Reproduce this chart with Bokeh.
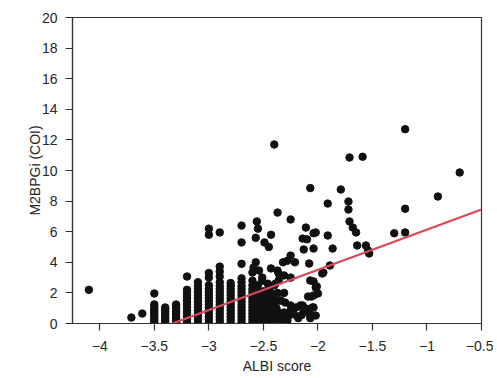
from bokeh.plotting import figure
from bokeh.models import FixedTicker, Range1d
from bokeh.embed import file_html
from bokeh.resources import INLINE

# ---- axis ticks ----
x_ticks = [-4, -3.5, -3, -2.5, -2, -1.5, -1, -0.5]
x_tick_labels = ["−4", "−3.5", "−3", "−2.5", "−2", "−1.5", "−1", "−0.5"]
y_ticks = [0, 2, 4, 6, 8, 10, 12, 14, 16, 18, 20]

# ---- dense vertical stripes (ALBI score value, M2BPGi values) ----
stripe_x = [-3.5, -3.4, -3.3, -3.2, -3.1, -3.0, -2.9, -2.8, -2.7, -2.6]
stripe_y = [
    [0.05, 0.2, 0.35, 0.5, 0.65, 0.8, 0.95, 1.1, 1.25, 1.96],
    [0.05, 0.2, 0.35, 0.5, 0.65, 0.8, 0.95, 1.05],
    [0.05, 0.2, 0.35, 0.5, 0.65, 0.8, 0.95, 1.1, 1.24],
    [0.05, 0.25, 0.45, 0.65, 0.85, 1.05, 1.25, 1.45, 1.65, 1.85, 2.05, 2.2, 3.07],
    [0.05, 0.25, 0.45, 0.65, 0.85, 1.05, 1.25, 1.45, 1.65, 1.85, 2.05, 2.25, 2.45, 2.7],
    [0.05, 0.25, 0.45, 0.65, 0.85, 1.05, 1.25, 1.45, 1.65, 1.85, 2.05, 2.25, 2.5, 3.0, 3.3, 5.8, 6.2],
    [0.05, 0.25, 0.45, 0.65, 0.85, 1.05, 1.25, 1.45, 1.65, 1.85, 2.05, 2.25, 2.45, 2.7, 3.07, 3.4, 3.72, 5.95],
    [0.05, 0.25, 0.45, 0.65, 0.85, 1.05, 1.25, 1.45, 1.65, 1.85, 2.05, 2.25, 2.45, 2.65],
    [0.05, 0.25, 0.45, 0.65, 0.85, 1.05, 1.25, 1.45, 1.65, 1.85, 2.05, 2.25, 2.45, 2.7, 2.95, 3.9, 5.3, 6.4],
    [0.05, 0.25, 0.45, 0.65, 0.85, 1.05, 1.25, 1.45, 1.65, 1.85, 2.05, 2.25, 2.5, 2.8, 3.33],
]

# ---- scattered patients ----
cloud_x = [
    -4.10, -3.71, -3.61,
    -2.57, -2.57, -2.56, -2.57, -2.55, -2.56, -2.55, -2.56, -2.55,
    -2.52, -2.51, -2.52, -2.50, -2.51, -2.52, -2.50, -2.51,
    -2.47, -2.46, -2.47, -2.45, -2.46, -2.47, -2.45, -2.46,
    -2.42, -2.41, -2.42, -2.40, -2.41, -2.43, -2.40,
    -2.37, -2.36, -2.38, -2.35, -2.37, -2.36, -2.37, -2.36,
    -2.32, -2.31, -2.30, -2.31, -2.31, -2.34, -2.33,
    -2.27, -2.25, -2.25, -2.25, -2.28, -2.22,
    -2.20, -2.18, -2.16, -2.14, -2.13, -2.11, -2.15,
    -2.08, -2.07, -2.05, -2.04, -2.04, -2.02, -2.01, -2.00, -2.09, -2.06, -2.07, -2.04, -2.02,
    -2.59, -2.54, -2.57, -2.43, -2.45, -2.49, -2.57, -2.43, -2.56, -2.55,
    -2.32, -2.28, -2.25, -2.21, -2.51, -2.39,
    -2.40, -2.37, -2.25, -2.11, -2.14, -2.10, -2.04, -2.02, -2.07, -1.79,
    -1.91, -1.72, -1.72, -1.71, -1.68, -1.65, -1.91, -1.71, -1.59, -1.20,
    -0.70, -0.90, -1.20, -1.20, -1.30,
    -2.13, -2.04, -1.865, -1.64, -1.56, -1.54, -1.53, -2.08, -1.89, -1.95, -1.96,
]
cloud_y = [
    2.2, 0.39, 0.65,
    0.1, 0.4, 0.7, 1.0, 1.3, 1.6, 1.9, 2.2, 2.5,
    0.2, 0.55, 0.9, 1.2, 1.5, 1.8, 2.1, 2.8,
    0.1, 0.45, 0.8, 1.1, 1.4, 1.7, 2.3, 2.6,
    0.2, 0.6, 0.9, 1.3, 1.6, 2.0, 2.5,
    0.3, 0.7, 1.0, 1.5, 2.0, 2.81, 3.46, 3.27,
    0.15, 0.72, 1.37, 2.0, 3.14, 1.5, 0.45,
    0.5, 0.85, 1.18, 3.0, 0.2, 0.6,
    1.05, 0.35, 1.18, 1.18, 0.85, 0.98, 0.55,
    0.65, 0.35, 1.05, 1.05, 1.83, 2.35, 2.42, 1.96, 1.76, 1.76, 2.81, 2.75, 0.52,
    3.66, 3.46, 4.0, 3.6, 5.0, 5.3, 5.6, 5.8, 6.67, 6.2,
    4.0, 4.1, 4.44, 4.0, 3.0, 2.6,
    11.7, 7.25, 6.8, 6.27, 5.55, 5.5, 5.9, 5.95, 8.85, 8.76,
    7.84, 7.97, 7.45, 6.67, 6.27, 5.95, 5.75, 10.85, 10.9, 12.7,
    9.87, 8.3, 7.5, 5.95, 5.9,
    4.84, 4.9, 4.9, 5.1, 5.1, 4.77, 4.58, 3.92, 3.79, 3.33, 3.27,
]

# ---- fitted regression line ----
reg_slope = 2.63
reg_intercept = 8.77
reg_x = [-3.335, -0.5]

xs, ys = [], []
for sx, col in zip(stripe_x, stripe_y):
    for v in col:
        xs.append(sx)
        ys.append(v)
xs += cloud_x
ys += cloud_y

FONT = "Liberation Sans"
TXT = "#262626"

p = figure(width=493, height=376, output_backend="svg", toolbar_location=None,
           x_range=Range1d(-4.25, -0.5), y_range=Range1d(0, 20),
           min_border_left=72, min_border_right=12, min_border_top=17,
           min_border_bottom=53)
p.background_fill_color = "white"
p.border_fill_color = "white"
p.outline_line_color = "#333333"
p.outline_line_width = 1.2
p.grid.visible = False

p.scatter(xs, ys, size=7.5, color="#111111")
p.line(reg_x, [reg_slope * v + reg_intercept for v in reg_x],
       line_color="#d9475a", line_width=2.2)

p.xaxis.ticker = FixedTicker(ticks=x_ticks)
p.xaxis.major_label_overrides = {t: l for t, l in zip(x_ticks, x_tick_labels)}
p.yaxis.ticker = FixedTicker(ticks=y_ticks)
p.xaxis.axis_label = "ALBI score"
p.yaxis.axis_label = "M2BPGi (COI)"

for ax in (p.xaxis, p.yaxis):
    ax.axis_line_color = "#333333"
    ax.axis_line_width = 1.2
    ax.major_tick_line_color = "#333333"
    ax.major_tick_line_width = 1.2
    ax.major_tick_in = 0
    ax.major_tick_out = 7
    ax.minor_tick_line_color = None
    ax.major_label_text_font = FONT
    ax.major_label_text_font_size = "14px"
    ax.major_label_text_color = TXT
    ax.axis_label_text_font = FONT
    ax.axis_label_text_font_size = "14px"
    ax.axis_label_text_font_style = "normal"
    ax.axis_label_text_color = TXT

p.xaxis.major_label_standoff = 10
p.xaxis.axis_label_standoff = 4
p.yaxis.major_label_standoff = 8
p.yaxis.axis_label_standoff = -4

open("out.html", "w").write(file_html(p, INLINE))
